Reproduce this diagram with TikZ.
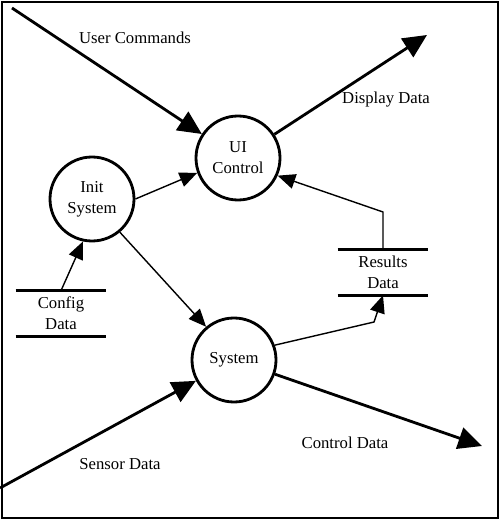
\documentclass[tikz,border=0pt]{standalone}
\usepackage{fontspec}
\setmainfont{Liberation Serif}
\usepackage{tikz}
\usetikzlibrary{arrows.meta}
\usetikzlibrary{shapes,shapes.geometric}
\pgfdeclarelayer{edgelayer}
\pgfdeclarelayer{nodelayer}
\pgfsetlayers{edgelayer,nodelayer,main}
\tikzstyle{none}=[inner sep=0mm]
\tikzstyle{proc}=[shape=circle,draw=black,line width=1.6pt,fill=white,minimum size=1.68cm,inner sep=0pt,align=center]
\tikzstyle{store}=[inner sep=0mm,minimum width=1.8cm,minimum height=0.9cm,align=center]
\tikzstyle{store line}=[line width=1.6pt]
\tikzstyle{flow text}=[inner sep=0mm]
\tikzstyle{bigflow}=[line width=1.6pt,-{Triangle[length=13.5pt,width=12.5pt]}]
\tikzstyle{flow}=[line width=0.8pt,-{Triangle[length=10pt,width=8.5pt]}]

\begin{document}
\begin{tikzpicture}[font={\fontsize{9.5}{12}\selectfont}]
	\useasboundingbox (0, 0) rectangle (10, -10.4);
	\draw [line width=0.8pt] (0.04, -0.04) rectangle (9.96, -10.36);
	\begin{pgfonlayer}{nodelayer}
		\node [style=proc] (ui) at (4.76, -3.16) {UI\\Control};
		\node [style=proc] (init) at (1.84, -3.98) {Init\\System};
		\node [style=proc] (sys) at (4.68, -7.2) {System};
		\node [style=store] (cfg) at (1.22, -6.27) {Config\\Data};
		\node [style=store] (res) at (7.66, -5.45) {Results\\Data};
		\node [style=flow text] (usrlbl) at (2.7, -0.76) {User Commands};
		\node [style=flow text] (displbl) at (7.72, -2.0) {Display Data};
		\node [style=flow text] (senlbl) at (2.4, -9.28) {Sensor Data};
		\node [style=flow text] (ctllbl) at (6.9, -8.86) {Control Data};
		\coordinate (usr) at (0.24, -0.16);
		\coordinate (disp) at (8.54, -0.70);
		\coordinate (sen) at (0, -9.76);
		\coordinate (ctl) at (9.64, -8.92);
		\coordinate (rbend) at (7.66, -4.24);
		\coordinate (sbend) at (7.48, -6.44);
	\end{pgfonlayer}
	\begin{pgfonlayer}{edgelayer}
		\draw [style=store line] (cfg.north west) to (cfg.north east);
		\draw [style=store line] (cfg.south west) to (cfg.south east);
		\draw [style=store line] (res.north west) to (res.north east);
		\draw [style=store line] (res.south west) to (res.south east);
		\draw [style=bigflow] (usr) to (ui);
		\draw [style=bigflow] (ui) to (disp);
		\draw [style=bigflow] (sen) to (sys);
		\draw [style=bigflow] (sys) to (ctl);
		\draw [style=flow] (init.east) to (ui.200);
		\draw [style=flow] (init.-50) to (sys.130);
		\draw [style=flow] (cfg.north) to (init.-102);
		\draw [style=flow] (res.north) to (rbend) to (ui.-24);
		\draw [style=flow] (sys.20) to (sbend) to (res.south);
	\end{pgfonlayer}
\end{tikzpicture}
\end{document}
